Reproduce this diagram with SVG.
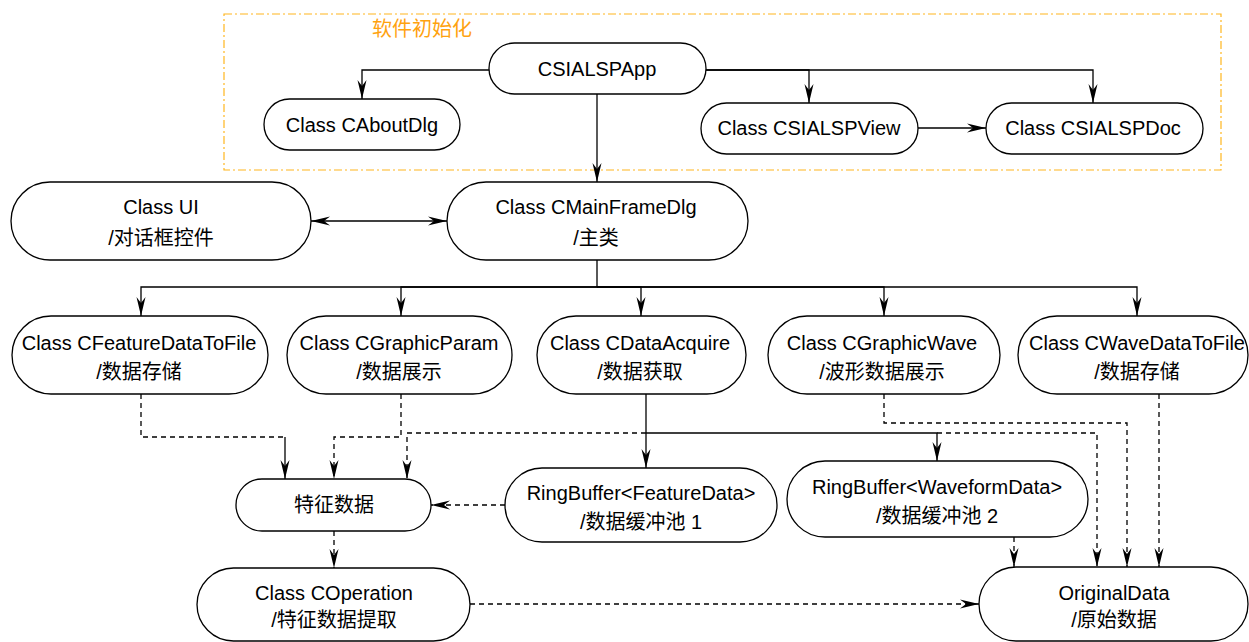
<svg xmlns="http://www.w3.org/2000/svg" width="1249" height="642" viewBox="0 0 1249 642">
  <style>
    .node { fill: #ffffff; stroke: #000000; stroke-width: 1.3; }
    .lbl { font-family: "Liberation Sans", Arial, "Noto Sans CJK SC", sans-serif; font-size: 20px; fill: #000000; text-anchor: middle; }
    .edge { fill: none; stroke: #000000; stroke-width: 1.3; }
    .dash { stroke-dasharray: 5 4; }
    .arrow { marker-end: url(#arr); }
    .group-frame { fill: none; stroke: #FFB61E; stroke-width: 1.2; stroke-dasharray: 8 3 2 3; }
    .group-title { font-family: "Liberation Sans", Arial, "Noto Sans CJK SC", sans-serif; font-size: 20px; fill: #FFA20F; }
  </style>
  <defs>
    <marker id="arr" markerUnits="userSpaceOnUse" markerWidth="20" markerHeight="10" refX="20" refY="5" orient="auto-start-reverse" viewBox="0 0 20 10">
      <path d="M20,5 L1,0.5 L7,5 L1,9.5 Z" fill="#000000"/>
    </marker>
  </defs>

  <rect width="1249" height="642" fill="#ffffff"/>

  <!-- initialisation group frame -->
  <g id="group-init">
    <rect class="group-frame" x="224" y="14" width="997" height="156"/>
    <text class="group-title" x="372" y="36">软件初始化</text>
  </g>

  <!-- connectors -->
  <g id="connectors">
    <path class="edge arrow" d="M489,70 H362 V99"/>
    <path class="edge arrow" d="M706,70 H809 V103"/>
    <path class="edge arrow" d="M706,70 H1093 V103"/>
    <path class="edge arrow" d="M918,128 H986"/>
    <path class="edge arrow" d="M597,94 V182"/>
    <path class="edge arrow" d="M311,221 H447" marker-start="url(#arr)"/>

    <path class="edge arrow" d="M597,260 V287 H141 V316"/>
    <path class="edge arrow" d="M597,287 H401 V316"/>
    <path class="edge arrow" d="M597,287 H641 V316"/>
    <path class="edge arrow" d="M597,287 H884 V316"/>
    <path class="edge arrow" d="M597,287 H1137 V316"/>

    <path class="edge dash" d="M141,394 V437 H285"/>
    <path class="edge arrow" d="M285,437 V479"/>
    <path class="edge dash arrow" d="M401,394 V437 H334 V479"/>
    <path class="edge dash arrow" d="M646,433 H407 V479"/>

    <path class="edge arrow" d="M646,394 V468"/>
    <path class="edge arrow" d="M646,433 H937 V461"/>
    <path class="edge dash arrow" d="M937,433 H1097 V567"/>
    <path class="edge dash arrow" d="M884,394 V423 H1127 V567"/>
    <path class="edge dash arrow" d="M1159,394 V567"/>
    <path class="edge dash arrow" d="M1014,537 V567"/>

    <path class="edge dash arrow" d="M505,505 H431"/>
    <path class="edge dash arrow" d="M334,531 V568"/>
    <path class="edge dash arrow" d="M470,604 H979"/>
  </g>

  <g id="node-app">
    <rect class="node" x="489" y="43" width="217" height="51" rx="25.5"/>
    <text class="lbl" x="597" y="76">CSIALSPApp</text>
  </g>
  <g id="node-aboutdlg">
    <rect class="node" x="264" y="99" width="196" height="51" rx="25.5"/>
    <text class="lbl" x="362" y="132">Class CAboutDlg</text>
  </g>
  <g id="node-view">
    <rect class="node" x="701" y="103" width="217" height="51" rx="25.5"/>
    <text class="lbl" x="809" y="135">Class CSIALSPView</text>
  </g>
  <g id="node-doc">
    <rect class="node" x="986" y="103" width="217" height="51" rx="25.5"/>
    <text class="lbl" x="1093" y="135">Class CSIALSPDoc</text>
  </g>

  <g id="node-ui">
    <rect class="node" x="11" y="182" width="300" height="78" rx="39"/>
    <text class="lbl" x="161" y="214">Class UI</text>
    <text class="lbl" x="161" y="245">/对话框控件</text>
  </g>
  <g id="node-mainframe">
    <rect class="node" x="447" y="182" width="301" height="78" rx="39"/>
    <text class="lbl" x="596" y="214">Class CMainFrameDlg</text>
    <text class="lbl" x="596" y="245">/主类</text>
  </g>

  <g id="node-featuretofile">
    <rect class="node" x="12" y="316" width="256" height="78" rx="39"/>
    <text class="lbl" x="139" y="350">Class CFeatureDataToFile</text>
    <text class="lbl" x="139" y="379">/数据存储</text>
  </g>
  <g id="node-graphicparam">
    <rect class="node" x="287" y="316" width="225" height="78" rx="39"/>
    <text class="lbl" x="399" y="350">Class CGraphicParam</text>
    <text class="lbl" x="399" y="379">/数据展示</text>
  </g>
  <g id="node-dataacquire">
    <rect class="node" x="537" y="316" width="209" height="78" rx="39"/>
    <text class="lbl" x="640" y="350">Class CDataAcquire</text>
    <text class="lbl" x="640" y="379">/数据获取</text>
  </g>
  <g id="node-graphicwave">
    <rect class="node" x="768" y="316" width="232" height="78" rx="39"/>
    <text class="lbl" x="882" y="350">Class CGraphicWave</text>
    <text class="lbl" x="882" y="379">/波形数据展示</text>
  </g>
  <g id="node-wavetofile">
    <rect class="node" x="1018" y="316" width="230" height="78" rx="39"/>
    <text class="lbl" x="1137" y="350">Class CWaveDataToFile</text>
    <text class="lbl" x="1137" y="379">/数据存储</text>
  </g>

  <g id="node-featuredata">
    <rect class="node" x="236" y="479" width="195" height="52" rx="26"/>
    <text class="lbl" x="334" y="512">特征数据</text>
  </g>
  <g id="node-ringbuffer1">
    <rect class="node" x="505" y="468" width="272" height="74" rx="37"/>
    <text class="lbl" x="641" y="500">RingBuffer&lt;FeatureData&gt;</text>
    <text class="lbl" x="641" y="529">/数据缓冲池 1</text>
  </g>
  <g id="node-ringbuffer2">
    <rect class="node" x="787" y="461" width="301" height="76" rx="38"/>
    <text class="lbl" x="937" y="494">RingBuffer&lt;WaveformData&gt;</text>
    <text class="lbl" x="937" y="523">/数据缓冲池 2</text>
  </g>

  <g id="node-operation">
    <rect class="node" x="197" y="568" width="273" height="73" rx="36.5"/>
    <text class="lbl" x="334" y="600">Class COperation</text>
    <text class="lbl" x="334" y="627">/特征数据提取</text>
  </g>
  <g id="node-originaldata">
    <rect class="node" x="979" y="567" width="269" height="74" rx="37"/>
    <text class="lbl" x="1114" y="600">OriginalData</text>
    <text class="lbl" x="1114" y="627">/原始数据</text>
  </g>
</svg>
